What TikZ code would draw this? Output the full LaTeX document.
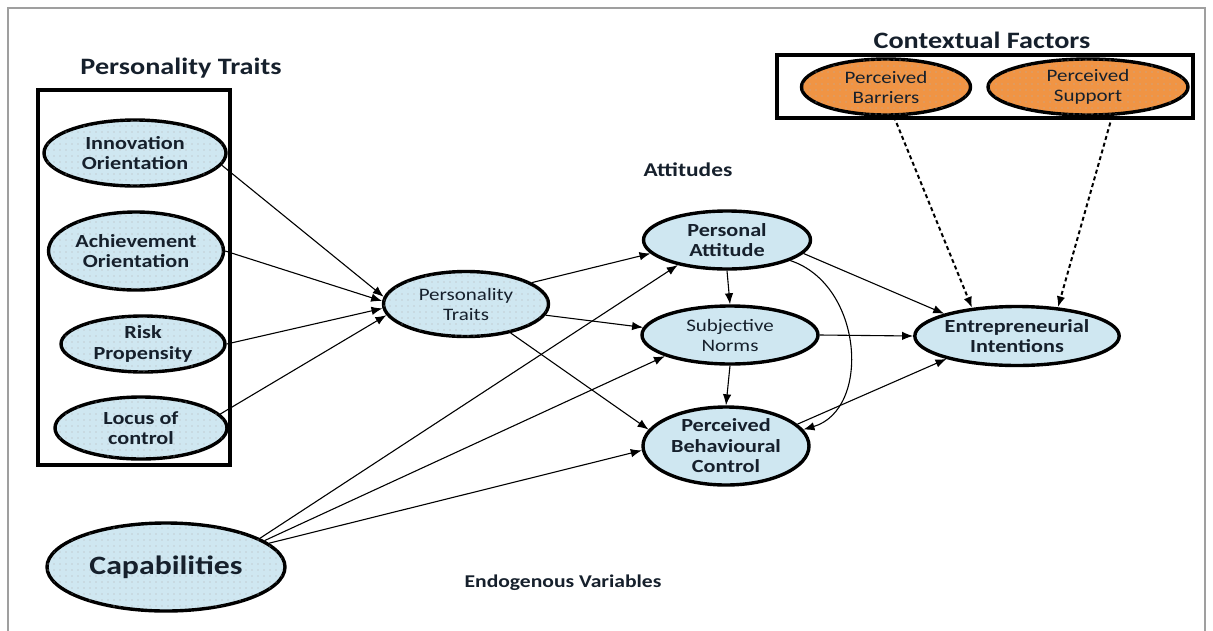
\documentclass[tikz,border=0pt]{standalone}
\usepackage{fontspec}
\setmainfont{Carlito}[FakeStretch=1.2]
\usepackage{xcolor}
\usetikzlibrary{arrows.meta,positioning,shapes.geometric,patterns.meta}

\definecolor{paleblue}{RGB}{207,231,241}
\definecolor{ctxorange}{RGB}{240,148,68}
\definecolor{inkblue}{RGB}{22,32,44}

\begin{document}
\begin{tikzpicture}[
      x=1pt, y=-1pt,
      >={Latex[length=11pt,width=8.5pt]},
      latent/.style={draw, ellipse, line width=3.4pt, align=center, inner sep=0pt,
      text=inkblue, fill=paleblue, font=\fontsize{18.5}{20.5}\selectfont\bfseries},
      speckled/.style={postaction={pattern={Dots[distance=6pt,radius=0.55pt]},
      pattern color=gray!60}},
      trait/.style={latent, speckled},
      attitude/.style={latent},
      plainfont/.style={font=\fontsize{17.5}{20}\selectfont},
      contextual/.style={latent, speckled, plainfont, fill=ctxorange},
      group/.style={draw, line width=3.5pt},
      title/.style={text=inkblue, font=\fontsize{23.5}{26}\selectfont\bfseries},
      flow/.style={->, line width=1.1pt},
      moderation/.style={->, line width=2pt, dash pattern=on 4pt off 3pt}
    ]
    \useasboundingbox (0,0) rectangle (1213,630);
    \draw[line width=2pt, gray!75] (8,632) |- (1205,8) -- (1205,632);

    % group frames
    \draw[group] (38,90) rectangle (230,465);
    \draw[group] (777,55) rectangle (1193,118);

    \node[title] (traitstitle) at (181,68) {Personality Traits};
    \node[title] (contexttitle) at (982,40) {Contextual Factors};
    \node[title, font=\fontsize{19.5}{22}\selectfont\bfseries] (attitudestitle)
    at (688,170) {Attitudes};
    \node[title, font=\fontsize{18}{20}\selectfont\bfseries] (endotitle)
    at (563,583) {Endogenous Variables};

    % personality traits
    \node[trait, minimum width=182pt, minimum height=66pt] (innov) at (135,153)
    {Innovation\\Orientation};
    \node[trait, minimum width=175pt, minimum height=78pt] (achv) at (136,251)
    {Achievement\\Orientation};
    \node[trait, minimum width=164pt, minimum height=56pt] (risk) at (143,344)
    {Risk\\Propensity};
    \node[trait, minimum width=172pt, minimum height=62pt] (locus) at (141,428)
    {Locus of\\control};
    \node[trait, minimum width=238pt, minimum height=88pt,
    font=\fontsize{26.5}{29}\selectfont\bfseries] (cap) at (166,567) {Capabilities};
    \node[trait, plainfont, minimum width=165pt, minimum height=65pt] (pt)
    at (466,304) {Personality\\Traits};

    % attitudes
    \node[attitude, minimum width=167pt, minimum height=58pt] (pa) at (727,240)
    {Personal\\Attitude};
    \node[attitude, plainfont, minimum width=176pt, minimum height=58pt] (sn)
    at (730,335) {Subjective\\Norms};
    \node[attitude, minimum width=166pt, minimum height=78pt] (pbc) at (726,446)
    {Perceived\\Behavioural\\Control};
    \node[attitude, minimum width=178pt, minimum height=59pt] (ei) at (1017,336)
    {Entrepreneurial\\Intentions};

    % contextual factors
    \node[contextual, minimum width=169pt, minimum height=56pt] (barr) at (886,87)
    {Perceived\\Barriers};
    \node[contextual, minimum width=200pt, minimum height=56pt] (supp) at (1088,87)
    {Perceived\\Support};

    \draw[flow] (innov.-8) -- (pt.175);
    \draw[flow] (achv.east) -- (pt.178);
    \draw[flow] (risk.east) -- (pt.183);
    \draw[flow] (locus.10) -- (pt.188);

    \draw[flow] (pt.18) -- (pa.190);
    \draw[flow] (pt.-8) -- (sn.175);
    \draw[flow] (pt.-33) -- (pbc.168);

    \draw[flow] (cap.17) -- (pa.207);
    \draw[flow] (cap.15) -- (sn.198);
    \draw[flow] (cap.13) -- (pbc.183);

    \draw[flow] (pa.south) -- (sn.north);
    \draw[flow] (sn.south) -- (pbc.north);
    \draw[flow] (pa.-18) .. controls +(73,24) and +(68,-20) .. (pbc.12);

    \draw[flow] (pa.-10) -- (ei.163);
    \draw[flow] (sn.east) -- (ei.west);
    \draw[flow] (pbc.17) -- (ei.198);

    \draw[moderation] (barr.-75) -- (ei.148);
    \draw[moderation] (supp.-50) -- (ei.35);
  \end{tikzpicture}
\end{document}
